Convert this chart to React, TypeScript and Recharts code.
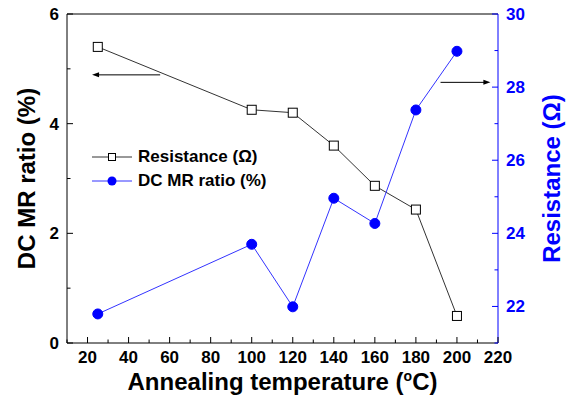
import { ComposedChart, Line, XAxis, YAxis, ReferenceLine, Legend, Label } from "recharts";

const temps = [25, 100, 120, 140, 160, 180, 200];
const resistance = [29.1, 27.38, 27.3, 26.4, 25.3, 24.65, 21.74];
const mrRatio = [0.53, 1.8, 0.66, 2.64, 2.18, 4.25, 5.32];

const xTicks = [10, 20, 30, 40, 50, 60, 70, 80, 90, 100, 110, 120, 130, 140, 150, 160, 170, 180, 190, 200, 210, 220];
const leftTicks = [0, 1, 2, 3, 4, 5, 6];
const rightTicks = [21, 22, 23, 24, 25, 26, 27, 28, 29, 30];

// annotation arrows (start -> end, in data units)
const leftArrow = [{ x: 55.4, y: 4.89 }, { x: 22.2, y: 4.89 }];
const rightArrow = [{ x: 192, y: 28.13 }, { x: 216.3, y: 28.13 }];

const rows = temps.map((t, i) => ({ t, res: resistance[i], mr: mrRatio[i] }));

const FONT = "'Liberation Sans', Arial, sans-serif";
const BLUE = "#0000ff";

function AxisTick(props: any) {
  const { x = 0, y = 0, payload, side, color, labelled } = props;
  const v = payload.value;
  const major = side === "bottom" || side === "top" ? v % 20 === 0 : v % 2 === 0;
  const len = major ? 6 : 3.5;
  let line;
  let label = null;
  if (side === "bottom") {
    line = <line x1={x} x2={x} y1={y} y2={y - len} stroke={color} />;
    if (major && labelled)
      label = <text x={x} y={y + 20} textAnchor="middle" fill={color}>{v}</text>;
  } else if (side === "top") {
    line = <line x1={x} x2={x} y1={y} y2={y + len} stroke={color} />;
  } else if (side === "left") {
    line = <line x1={x} x2={x + len} y1={y} y2={y} stroke={color} />;
    if (major) label = <text x={x - 8} y={y + 6} textAnchor="end" fill={color}>{v}</text>;
  } else {
    line = <line x1={x} x2={x - len} y1={y} y2={y} stroke={color} />;
    if (major) label = <text x={x + 8} y={y + 6} textAnchor="start" fill={color}>{v}</text>;
  }
  return (
    <g style={{ fontFamily: FONT, fontWeight: "bold", fontSize: 17 }}>
      {line}
      {label}
    </g>
  );
}

function SquareDot(props: any) {
  const { cx, cy, index } = props;
  if (cx == null || cy == null) return <g key={index} />;
  return <rect key={index} x={cx - 4.5} y={cy - 4.5} width={9} height={9} fill="#fff" stroke="#000" strokeWidth={1} />;
}

function Arrow(props: any) {
  const { x1, y1, x2, y2 } = props;
  const dir = x2 > x1 ? 1 : -1;
  return (
    <g>
      <line x1={x1} y1={y1} x2={x2 - dir * 5} y2={y2} stroke="#000" strokeWidth={1} />
      <polygon points={`${x2},${y2} ${x2 - dir * 7},${y2 - 2.5} ${x2 - dir * 7},${y2 + 2.5}`} fill="#000" />
    </g>
  );
}

const legendItems = [
  { name: "Resistance (Ω)", color: "#333", kind: "square" },
  { name: "DC MR ratio (%)", color: BLUE, kind: "circle" },
];

function LegendBox() {
  return (
    <div style={{ fontFamily: FONT, fontWeight: "bold", fontSize: 17, color: "#000" }}>
      {legendItems.map((it) => (
        <div key={it.name} style={{ display: "flex", alignItems: "center", height: 24 }}>
          <svg width={40} height={20} style={{ marginRight: 6 }}>
            <line x1={0} x2={40} y1={10} y2={10} stroke={it.kind === "square" ? "#333" : "#3333ff"} strokeWidth={1} />
            {it.kind === "square" ? (
              <rect x={16.5} y={6.5} width={7} height={7} fill="#fff" stroke="#000" />
            ) : (
              <circle cx={20} cy={10} r={4.5} fill={BLUE} />
            )}
          </svg>
          <span>{it.name}</span>
        </div>
      ))}
    </div>
  );
}

export default function App() {
  return (
    <div style={{ position: "absolute", left: 0, top: 0, width: 567, height: 402, background: "#fff" }}>
      <ComposedChart width={567} height={402} data={rows} margin={{ top: 0, right: 0, bottom: 0, left: 0 }}>
        <XAxis
          dataKey="t"
          type="number"
          domain={[10, 220]}
          ticks={xTicks}
          interval={0}
          height={59}
          stroke="#000"
          tickLine={false}
          tickSize={0}
          tickMargin={0}
          tick={(p: any) => <AxisTick {...p} side="bottom" color="#000" labelled />}
          allowDataOverflow
        >
          <Label
            content={(p: any) => {
              const vb = p.viewBox;
              return (
                <text
                  x={vb.x + vb.width / 2}
                  y={vb.y + 47}
                  textAnchor="middle"
                  style={{ fontFamily: FONT, fontWeight: "bold", fontSize: 24 }}
                  fill="#000"
                >
                  Annealing temperature (
                  <tspan dy={-9} fontSize={14}>o</tspan>
                  <tspan dy={9}>C)</tspan>
                </text>
              );
            }}
          />
        </XAxis>
        <XAxis
          xAxisId="top"
          orientation="top"
          type="number"
          domain={[10, 220]}
          ticks={xTicks}
          interval={0}
          height={14}
          stroke="#000"
          tickLine={false}
          tickSize={0}
          tickMargin={0}
          tick={(p: any) => <AxisTick {...p} side="top" color="#000" />}
          allowDataOverflow
        />
        <YAxis
          yAxisId="left"
          domain={[0, 6]}
          ticks={leftTicks}
          interval={0}
          width={67}
          stroke="#000"
          tickLine={false}
          tickSize={0}
          tickMargin={0}
          tick={(p: any) => <AxisTick {...p} side="left" color="#000" />}
          allowDataOverflow
        >
          <Label
            content={(p: any) => {
              const vb = p.viewBox;
              const cy = vb.y + vb.height / 2;
              return (
                <text
                  x={35}
                  y={cy}
                  transform={`rotate(-90 35 ${cy})`}
                  textAnchor="middle"
                  style={{ fontFamily: FONT, fontWeight: "bold", fontSize: 24 }}
                  fill="#000"
                >
                  DC MR ratio (%)
                </text>
              );
            }}
          />
        </YAxis>
        <YAxis
          yAxisId="right"
          orientation="right"
          domain={[21, 30]}
          ticks={rightTicks}
          interval={0}
          width={69}
          stroke={BLUE}
          tickLine={false}
          tickSize={0}
          tickMargin={0}
          tick={(p: any) => <AxisTick {...p} side="right" color={BLUE} />}
          allowDataOverflow
        >
          <Label
            content={(p: any) => {
              const vb = p.viewBox;
              const cy = vb.y + vb.height / 2;
              return (
                <text
                  x={560}
                  y={cy}
                  transform={`rotate(-90 560 ${cy})`}
                  textAnchor="middle"
                  style={{ fontFamily: FONT, fontWeight: "bold", fontSize: 24 }}
                  fill={BLUE}
                >
                  Resistance (Ω)
                </text>
              );
            }}
          />
        </YAxis>
        <Line
          yAxisId="right"
          dataKey="res"
          name="Resistance (Ω)"
          stroke="#333"
          strokeWidth={1}
          dot={<SquareDot />}
          isAnimationActive={false}
        />
        <Line
          yAxisId="left"
          dataKey="mr"
          name="DC MR ratio (%)"
          stroke="#3333ff"
          strokeWidth={1}
          dot={{ r: 5, fill: BLUE, stroke: BLUE, strokeWidth: 1 }}
          isAnimationActive={false}
        />
        <ReferenceLine yAxisId="left" segment={leftArrow} shape={Arrow} />
        <ReferenceLine yAxisId="right" segment={rightArrow} shape={Arrow} />
        <Legend
          layout="vertical"
          align="center"
          verticalAlign="middle"
          content={() => <LegendBox />}
          wrapperStyle={{ left: 92, top: 145, width: "auto" }}
        />
      </ComposedChart>
    </div>
  );
}
